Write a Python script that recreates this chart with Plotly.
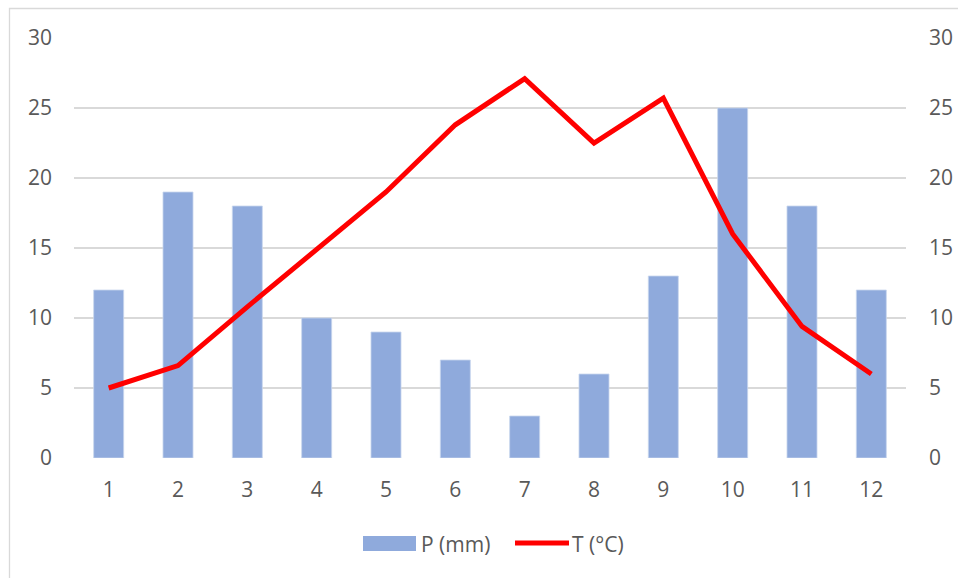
import plotly.graph_objects as go

# Monthly climate data
months = ["1", "2", "3", "4", "5", "6", "7", "8", "9", "10", "11", "12"]
precip_mm = [12, 19, 18, 10, 9, 7, 3, 6, 13, 25, 18, 12]
temp_c = [5.0, 6.6, 10.8, 14.9, 19.0, 23.8, 27.1, 22.5, 25.7, 16.0, 9.4, 6.0]
y_ticks = [0, 5, 10, 15, 20, 25, 30]

BAR_COLOR = "#8FAADC"
LINE_COLOR = "#FF0000"
TEXT_COLOR = "#595959"
GRID_COLOR = "#D9D9D9"
FONT = "Open Sans"
FONT_SIZE = 21

W, H = 958, 578
L, R, T, B = 74, 52, 38, 120
PW, PH = W - L - R, H - T - B


def px_x(x):
    return (x - L) / PW


def px_y(y):
    return (H - B - y) / PH


fig = go.Figure()
fig.add_trace(go.Bar(
    x=months, y=precip_mm, name="P (mm)",
    marker=dict(color=BAR_COLOR, line=dict(color="#C9D7EE", width=0.8)),
    showlegend=False, yaxis="y",
))
fig.add_trace(go.Scatter(
    x=months, y=temp_c, name="T (°C)", mode="lines",
    line=dict(color=LINE_COLOR, width=5),
    showlegend=False, yaxis="y2",
))

axis_common = dict(
    range=[0, 30], tickvals=y_ticks, ticktext=[str(v) for v in y_ticks],
    tickfont=dict(family=FONT, size=FONT_SIZE, color=TEXT_COLOR),
    showline=False, zeroline=False, fixedrange=True, automargin=False,
)

fig.update_layout(
    width=W, height=H,
    margin=dict(l=L, r=R, t=T, b=B, autoexpand=False),
    paper_bgcolor="white", plot_bgcolor="white",
    bargap=0.567,
    font=dict(family=FONT, color=TEXT_COLOR),
    xaxis=dict(
        type="category", showgrid=False, showline=False, zeroline=False,
        ticks="", ticklabelstandoff=17, automargin=False,
        tickfont=dict(family=FONT, size=FONT_SIZE, color=TEXT_COLOR),
    ),
    yaxis=dict(showgrid=True, gridcolor=GRID_COLOR, gridwidth=1.6,
               ticklabelstandoff=21, **axis_common),
    yaxis2=dict(overlaying="y", side="right", showgrid=False,
                ticklabelstandoff=22, **axis_common),
)

# Chart border (top and left edges visible)
fig.add_shape(type="rect", xref="paper", yref="paper",
              x0=px_x(9.5), x1=px_x(1000), y0=px_y(620), y1=px_y(8.5),
              line=dict(color=GRID_COLOR, width=1.3), fillcolor="rgba(0,0,0,0)",
              layer="below")

# Legend
fig.add_shape(type="rect", xref="paper", yref="paper",
              x0=px_x(363), x1=px_x(416), y0=px_y(551), y1=px_y(536),
              fillcolor=BAR_COLOR, line=dict(width=0))
fig.add_annotation(xref="paper", yref="paper", x=px_x(419), y=px_y(543.5),
                   text="P (mm)", showarrow=False, xanchor="left", yanchor="middle",
                   font=dict(family=FONT, size=FONT_SIZE, color=TEXT_COLOR))
fig.add_shape(type="line", xref="paper", yref="paper",
              x0=px_x(515), x1=px_x(569), y0=px_y(543), y1=px_y(543),
              line=dict(color=LINE_COLOR, width=5))
fig.add_annotation(xref="paper", yref="paper", x=px_x(570), y=px_y(543.5),
                   text="T (°C)", showarrow=False, xanchor="left", yanchor="middle",
                   font=dict(family=FONT, size=FONT_SIZE, color=TEXT_COLOR))

fig.write_html("out.html")
